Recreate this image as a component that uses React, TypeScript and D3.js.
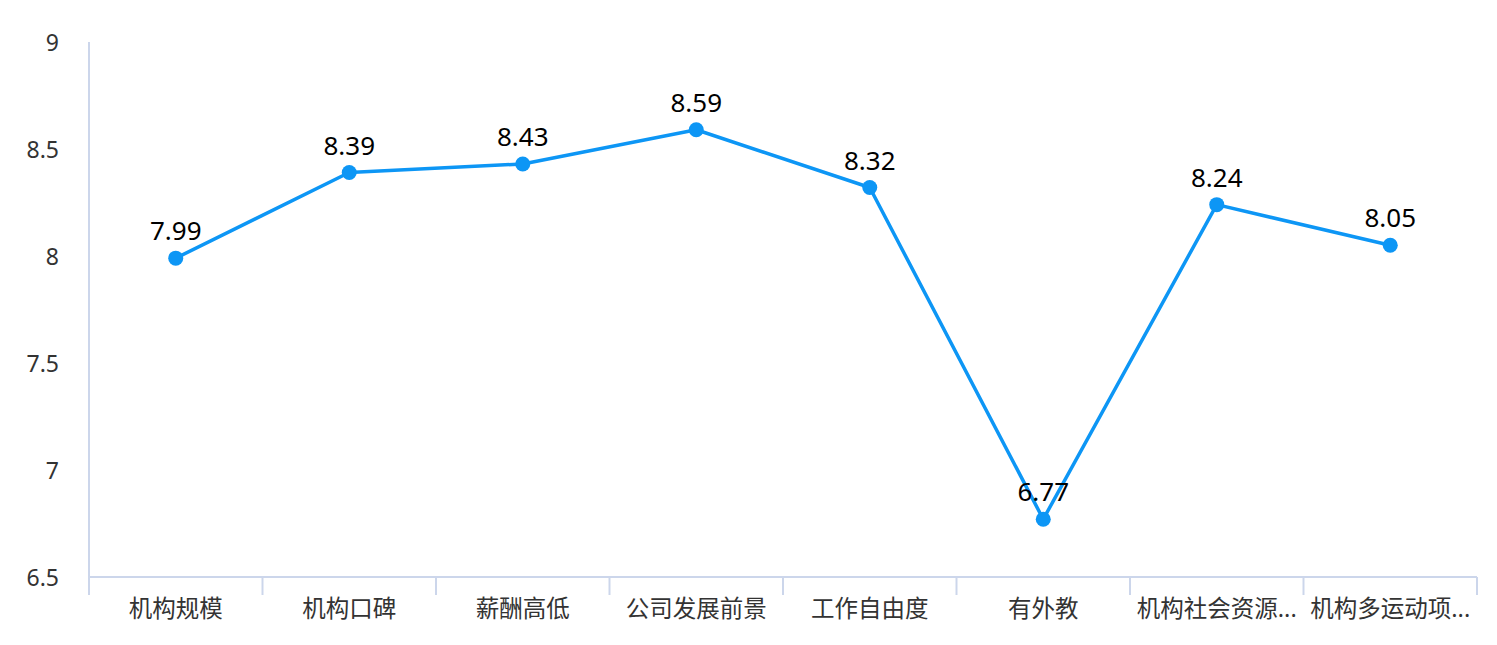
import React from "react";
import * as d3 from "d3";

const categories = ["机构规模", "机构口碑", "薪酬高低", "公司发展前景", "工作自由度", "有外教", "机构社会资源...", "机构多运动项..."];
const values = [7.99, 8.39, 8.43, 8.59, 8.32, 6.77, 8.24, 8.05];
const yTicks = [6.5, 7, 7.5, 8, 8.5, 9];

const W = 1497;
const H = 645;
const margin = { left: 89, right: 20, top: 42, bottom: 68 };
const FONT = "'Noto Sans', 'Noto Sans CJK SC', sans-serif";

export default function App() {
  const x = d3
    .scaleBand<string>()
    .domain(categories)
    .range([margin.left, W - margin.right]);
  const y = d3.scaleLinear().domain([6.5, 9]).range([H - margin.bottom, margin.top]);
  const line = d3
    .line<number>()
    .x((_, i) => (x(categories[i]) as number) + x.bandwidth() / 2)
    .y((d) => y(d));
  const axisColor = "#ccd6eb";
  const y0 = y(6.5);
  const edges = categories.map((c) => x(c) as number).concat([W - margin.right]);

  return (
    <svg
      width={W}
      height={H}
      style={{ position: "absolute", left: 0, top: 0, background: "#fff" }}
      fontFamily={FONT}
    >
      <line x1={margin.left} x2={margin.left} y1={margin.top} y2={y0 + 18} stroke={axisColor} strokeWidth={2} />
      <line x1={margin.left} x2={W - margin.right} y1={y0} y2={y0} stroke={axisColor} strokeWidth={2} />
      {edges.map((e, i) => (
        <line key={i} x1={e} x2={e} y1={y0} y2={y0 + 18} stroke={axisColor} strokeWidth={2} />
      ))}
      {yTicks.map((t) => (
        <text key={t} x={59} y={y(t)} textAnchor="end" dominantBaseline="central" fontSize={23} fill="#333">
          {t}
        </text>
      ))}
      {categories.map((c) => (
        <text
          key={c}
          x={(x(c) as number) + x.bandwidth() / 2}
          y={608}
          textAnchor="middle"
          dominantBaseline="central"
          fontSize={23.5}
          fill="#333"
        >
          {c}
        </text>
      ))}
      <path d={line(values) || ""} fill="none" stroke="#0d96f5" strokeWidth={3.5} strokeLinejoin="round" />
      {values.map((v, i) => (
        <circle key={i} cx={(x(categories[i]) as number) + x.bandwidth() / 2} cy={y(v)} r={7.5} fill="#0d96f5" />
      ))}
      {values.map((v, i) => (
        <text
          key={"l" + i}
          x={(x(categories[i]) as number) + x.bandwidth() / 2}
          y={y(v) - 18}
          textAnchor="middle"
          fontSize={26}
          fill="#000"
        >
          {v.toFixed(2)}
        </text>
      ))}
    </svg>
  );
}
